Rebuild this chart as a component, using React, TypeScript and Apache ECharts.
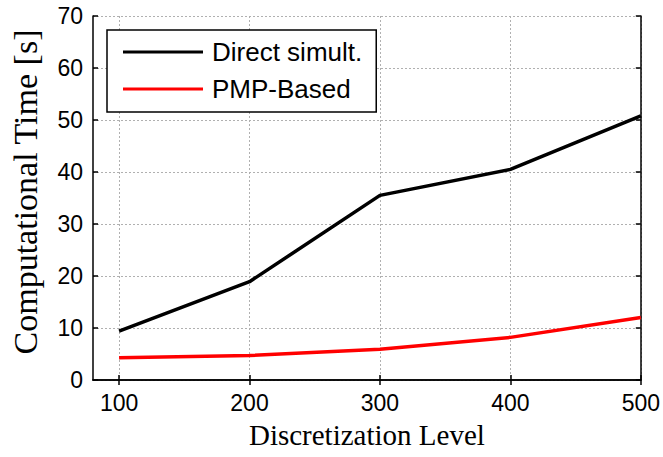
import React, { useEffect, useRef } from "react";
import * as echarts from "echarts";

const levels = [100, 200, 300, 400, 500];
const directSimult = [9.4, 18.9, 35.5, 40.5, 50.8];
const pmpBased = [4.3, 4.7, 5.9, 8.2, 12.0];
const xTicks = [100, 200, 300, 400, 500];

export default function App() {
  const ref = useRef<HTMLDivElement>(null);
  useEffect(() => {
    if (!ref.current) return;
    const chart = echarts.init(ref.current, null, { renderer: "svg" });
    const axisLine = { show: true, lineStyle: { color: "#000", width: 1.5 } };
    const split = { show: true, lineStyle: { color: "#b0b0b0", type: [2, 2], width: 1 } };
    const tickStyle = { color: "#000", width: 1.5 };
    chart.setOption({
      animation: false,
      backgroundColor: "#fff",
      grid: { left: 93, top: 16, right: 22, bottom: 77, containLabel: false },
      legend: {
        orient: "vertical",
        left: 107,
        top: 30,
        icon: "rect",
        itemWidth: 80,
        itemHeight: 3,
        itemGap: 11,
        padding: [9, 14, 10, 16],
        borderColor: "#000",
        borderWidth: 1.5,
        backgroundColor: "#fff",
        textStyle: { fontFamily: "Liberation Sans, Arial", fontSize: 26, color: "#000", padding: [0, 0, 0, 4] },
        data: ["Direct simult.", "PMP-Based"],
      },
      xAxis: [
        {
          type: "value",
          min: 80,
          max: 500,
          name: "Discretization Level",
          nameLocation: "middle",
          nameGap: 40,
          nameTextStyle: { fontFamily: "Liberation Serif, Times New Roman", fontSize: 29, color: "#000" },
          axisLine,
          axisTick: { show: true, inside: true, length: 5, customValues: xTicks, lineStyle: tickStyle },
          axisLabel: { customValues: xTicks, fontFamily: "Liberation Sans, Arial", fontSize: 23, color: "#000", margin: 11 },
          splitLine: split,
        },
        {
          type: "value",
          min: 80,
          max: 500,
          position: "top",
          axisLine,
          axisTick: { show: true, inside: true, length: 5, customValues: xTicks, lineStyle: tickStyle },
          axisLabel: { show: false },
          splitLine: { show: false },
        },
      ],
      yAxis: [
        {
          type: "value",
          min: 0,
          max: 70,
          interval: 10,
          name: "Computational Time [s]",
          nameLocation: "middle",
          nameGap: 51,
          nameTextStyle: {
            fontFamily: "Liberation Serif, Times New Roman",
            fontSize: 34,
            color: "#000",
            padding: [0, 0, 0, 12],
          },
          axisLine,
          axisTick: { show: true, inside: true, length: 5, lineStyle: tickStyle },
          axisLabel: { fontFamily: "Liberation Sans, Arial", fontSize: 23, color: "#000", margin: 10 },
          splitLine: split,
        },
        {
          type: "value",
          min: 0,
          max: 70,
          interval: 10,
          position: "right",
          axisLine,
          axisTick: { show: true, inside: true, length: 5, lineStyle: tickStyle },
          axisLabel: { show: false },
          splitLine: { show: false },
        },
      ],
      series: [
        {
          name: "Direct simult.",
          type: "line",
          data: levels.map((x, i) => [x, directSimult[i]]),
          symbol: "none",
          lineStyle: { color: "#000", width: 3.5 },
          itemStyle: { color: "#000" },
          z: 3,
        },
        {
          name: "PMP-Based",
          type: "line",
          data: levels.map((x, i) => [x, pmpBased[i]]),
          symbol: "none",
          lineStyle: { color: "#ff0000", width: 3.5 },
          itemStyle: { color: "#ff0000" },
          z: 3,
        },
      ],
    });
    return () => chart.dispose();
  }, []);
  return <div ref={ref} style={{ width: 663, height: 457, position: "absolute", left: 0, top: 0 }} />;
}
